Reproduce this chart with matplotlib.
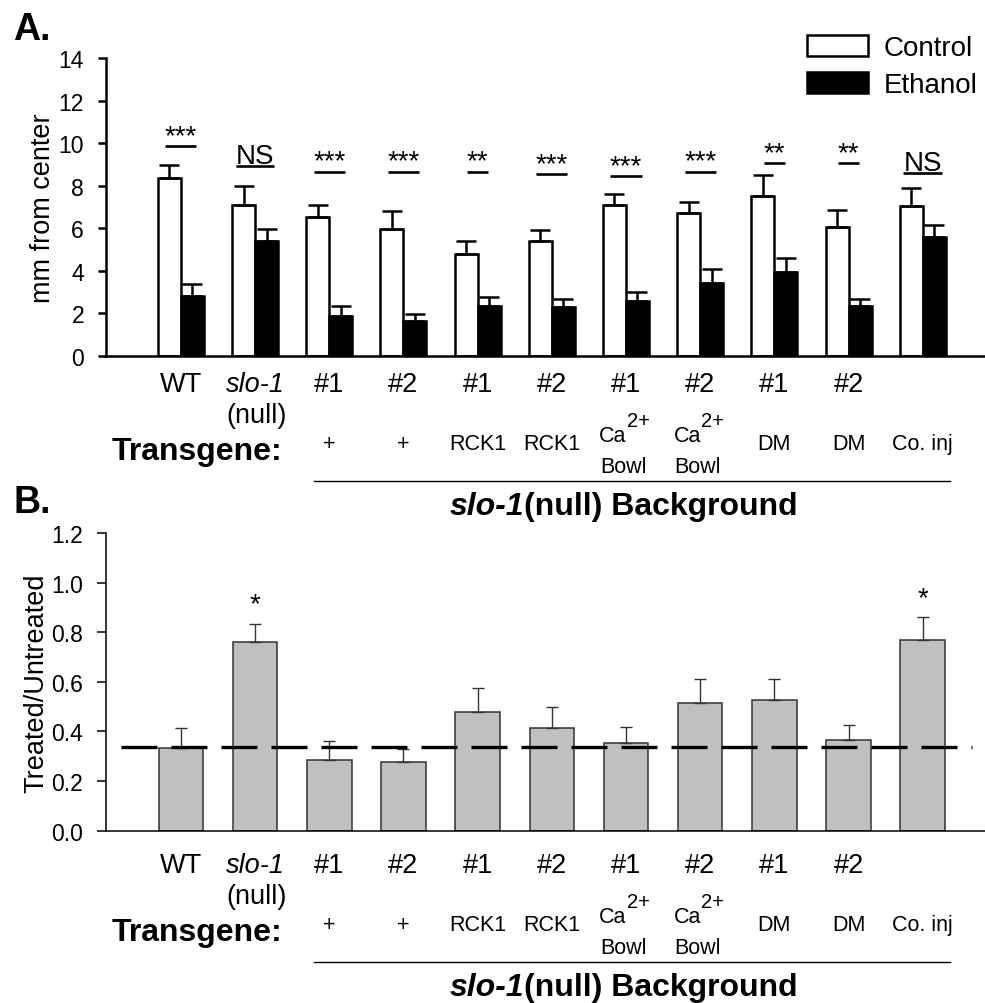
import numpy as np
import matplotlib.pyplot as plt
from matplotlib import transforms
from matplotlib.offsetbox import TextArea, HPacker, AnnotationBbox

plt.rcParams['font.family'] = ['Liberation Sans', 'DejaVu Sans']

W, H = 985, 1004

# ---- data ----
names = ['WT', 'slo-1', '#1', '#2', '#1', '#2', '#1', '#2', '#1', '#2', '']
transgene = ['', '', '+', '+', 'RCK1', 'RCK1', 'Ca', 'Ca', 'DM', 'DM', 'Co. inj']

control = [8.35, 7.1, 6.55, 5.95, 4.8, 5.4, 7.1, 6.7, 7.5, 6.05, 7.05]
control_err = [0.6, 0.9, 0.55, 0.85, 0.6, 0.5, 0.5, 0.55, 1.0, 0.8, 0.85]
ethanol = [2.8, 5.4, 1.9, 1.65, 2.35, 2.3, 2.6, 3.45, 3.95, 2.35, 5.6]
ethanol_err = [0.6, 0.55, 0.45, 0.3, 0.4, 0.4, 0.4, 0.65, 0.65, 0.35, 0.55]
sig_a = ['***', 'NS', '***', '***', '**', '***', '***', '***', '**', '**', 'NS']
sig_a_y = [9.86, 8.92, 8.64, 8.64, 8.64, 8.54, 8.45, 8.64, 9.06, 9.06, 8.6]

ratio = [0.335, 0.76, 0.285, 0.275, 0.48, 0.415, 0.355, 0.515, 0.525, 0.365, 0.77]
ratio_err = [0.08, 0.075, 0.075, 0.055, 0.095, 0.085, 0.065, 0.095, 0.085, 0.06, 0.09]
sig_b = ['', '*', '', '', '', '', '', '', '', '', '*']
ratio_ref = 0.3375

x = np.arange(len(names))
halfw = {'***': 0.21, '**': 0.14, 'NS': 0.26}

fig = plt.figure(figsize=(W / 100, H / 100), dpi=100)
ax_a = fig.add_axes([106 / W, 1 - 357 / H, (W - 106) / W, (357 - 59) / H])
ax_b = fig.add_axes([106 / W, 1 - 831.7 / H, (W - 106) / W, (831.7 - 534) / H])


def style_axes(ax, lw, ticklen):
    ax.spines['top'].set_visible(False)
    ax.spines['right'].set_visible(False)
    for s in ('left', 'bottom'):
        ax.spines[s].set_linewidth(lw)
    ax.set_xlim(-1.01, 10.84)
    ax.set_xticks([])
    ax.tick_params(axis='y', direction='out', length=ticklen, width=lw,
                   pad=10, labelsize=16.5)


def group_labels(ax, off):
    tr = transforms.blended_transform_factory(ax.transData, fig.transFigure)
    fy = lambda p: 1 - (p + off) / H
    for i, n in enumerate(names):
        if n == 'slo-1':
            ax.text(i, fy(392), n, transform=tr, ha='center', va='baseline',
                    fontsize=19.5, fontstyle='italic')
            ax.text(i + 0.02, fy(423), '(null)', transform=tr, ha='center',
                    va='baseline', fontsize=19.5)
        elif n:
            ax.text(i, fy(392), n, transform=tr, ha='center', va='baseline',
                    fontsize=19.5)
        t = transgene[i]
        if t == 'Ca':
            ax.text(i + 0.01, fy(442), 'Ca', transform=tr, ha='right',
                    va='baseline', fontsize=15.5)
            ax.text(i + 0.01, fy(427), '2+', transform=tr, ha='left',
                    va='baseline', fontsize=14.5)
            ax.text(i - 0.04, fy(473), 'Bowl', transform=tr, ha='center',
                    va='baseline', fontsize=15.5)
        elif t:
            ax.text(i, fy(450), t, transform=tr, ha='center', va='baseline',
                    fontsize=15.5)
    ax.text(1.37, fy(460), 'Transgene:', transform=tr, ha='right',
            va='baseline', fontsize=23, fontweight='bold')
    ax.plot([1.8, 10.37], [fy(482), fy(482)], transform=tr, color='k',
            lw=1.0, clip_on=False)
    parts = [TextArea('slo-1', textprops=dict(fontsize=23, fontweight='bold',
                                              fontstyle='italic')),
             TextArea('(null) Background',
                      textprops=dict(fontsize=23, fontweight='bold'))]
    box = HPacker(children=parts, pad=0, sep=0, align='baseline')
    ab = AnnotationBbox(box, (5.97, fy(522)), xycoords=tr,
                        box_alignment=(0.5, 0), frameon=False, pad=0)
    ax.add_artist(ab)


# ---- panel A ----
w = 0.31
style_axes(ax_a, 1.8, 5.8)
ax_a.set_ylim(0, 14)
ax_a.set_yticks(range(0, 15, 2))
ax_a.bar(x - w / 2, control, w, color='white', edgecolor='k', lw=1.8,
         label='Control', zorder=2)
ax_a.bar(x + w / 2, ethanol, w, color='k', edgecolor='k', lw=1.8,
         label='Ethanol', zorder=2)
ax_a.errorbar(x - w / 2, control, yerr=[np.zeros(len(x)), control_err],
              fmt='none', ecolor='k', elinewidth=1.8, capsize=7.5,
              capthick=1.8, zorder=3)
ax_a.errorbar(x + w / 2, ethanol, yerr=[np.zeros(len(x)), ethanol_err],
              fmt='none', ecolor='k', elinewidth=1.8, capsize=7.5,
              capthick=1.8, zorder=3)
for i, (s, yy) in enumerate(zip(sig_a, sig_a_y)):
    hw = halfw[s]
    ax_a.plot([i - hw, i + hw], [yy, yy], color='k', lw=1.9,
              solid_capstyle='butt')
    ax_a.text(i, yy + 0.16, s, ha='center', va='baseline', fontsize=20)
ax_a.legend(loc='upper left', bbox_to_anchor=(807 / W, 1 - 36 / H),
            bbox_transform=fig.transFigure, frameon=False, fontsize=20,
            handlelength=2.2, handleheight=0.76, handletextpad=0.55,
            labelspacing=0.40, borderpad=0, borderaxespad=0)
group_labels(ax_a, 0)

# ---- panel B ----
style_axes(ax_b, 1.1, 6.5)
ax_b.set_ylim(0, 1.2)
ax_b.set_yticks(np.arange(0, 1.21, 0.2))
ax_b.yaxis.set_major_formatter('{x:.1f}')
ax_b.bar(x, ratio, 0.6, color='#c0c0c0', edgecolor='#333333', lw=1.1,
         zorder=2)
ax_b.errorbar(x, ratio, yerr=[np.zeros(len(x)), ratio_err], fmt='none',
              ecolor='#333333', elinewidth=1.0, capsize=4.2, capthick=1.0,
              zorder=3)
ax_b.hlines(ratio_ref, -0.81, 10.67, colors='k', lw=2.4,
            linestyles=[(0, (10.8, 4.2))], zorder=5)
for i, s in enumerate(sig_b):
    if s:
        ax_b.text(i, ratio[i] + ratio_err[i] + 0.05, s, ha='center',
                  va='baseline', fontsize=20)
group_labels(ax_b, 481)

fig.text(13 / W, 1 - 40 / H, 'A.', fontsize=27, fontweight='bold',
         va='baseline')
fig.text(13 / W, 1 - 513 / H, 'B.', fontsize=27, fontweight='bold',
         va='baseline')
fig.text(56 / W, 1 - 208 / H, 'mm from center', rotation=90, ha='right',
         va='center', fontsize=19.5)
fig.text(49 / W, 1 - 683 / H, 'Treated/Untreated', rotation=90, ha='right',
         va='center', fontsize=19.5)

fig.savefig('out.png', dpi=100)
